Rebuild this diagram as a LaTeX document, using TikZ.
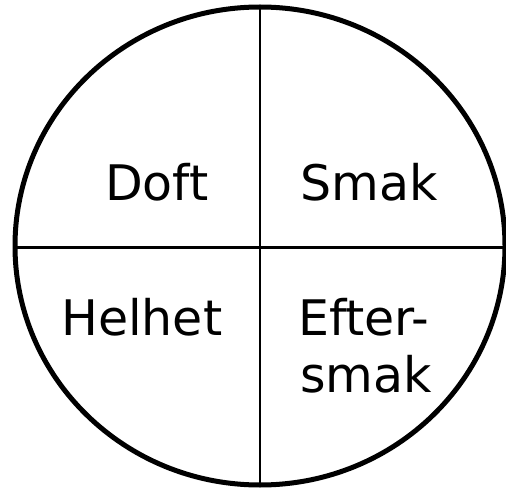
\documentclass[tikz,border=0pt]{standalone}
\usepackage{fontspec}
\setmainfont{DejaVu Sans}
\begin{document}
\begin{tikzpicture}[x=1pt,y=-1pt,
  lbl/.style={anchor=base west,inner sep=0pt,font=\fontsize{49}{57}\selectfont},
  divider/.style={line width=2.6pt}]
\useasboundingbox (0,0) rectangle (506,489);
\coordinate (c) at (260,246);
\draw[line width=5pt] (c) ellipse [x radius=245, y radius=239];
\coordinate (top) at (260,7);
\coordinate (bot) at (260,485);
\coordinate (lft) at (15,247.5);
\coordinate (rgt) at (505,247.5);
\draw[divider] (top) -- (bot);
\draw[divider] (lft) -- (rgt);
\node[lbl] (doft) at (105,200.7) {Doft};
\node[lbl] (smak) at (300,200.7) {Smak};
\node[lbl] (helhet) at (61,335) {Helhet};
\node[lbl] (efter) at (298,335) {Efter-};
\node[lbl] (smak2) at (300,392) {smak};
\end{tikzpicture}
\end{document}
